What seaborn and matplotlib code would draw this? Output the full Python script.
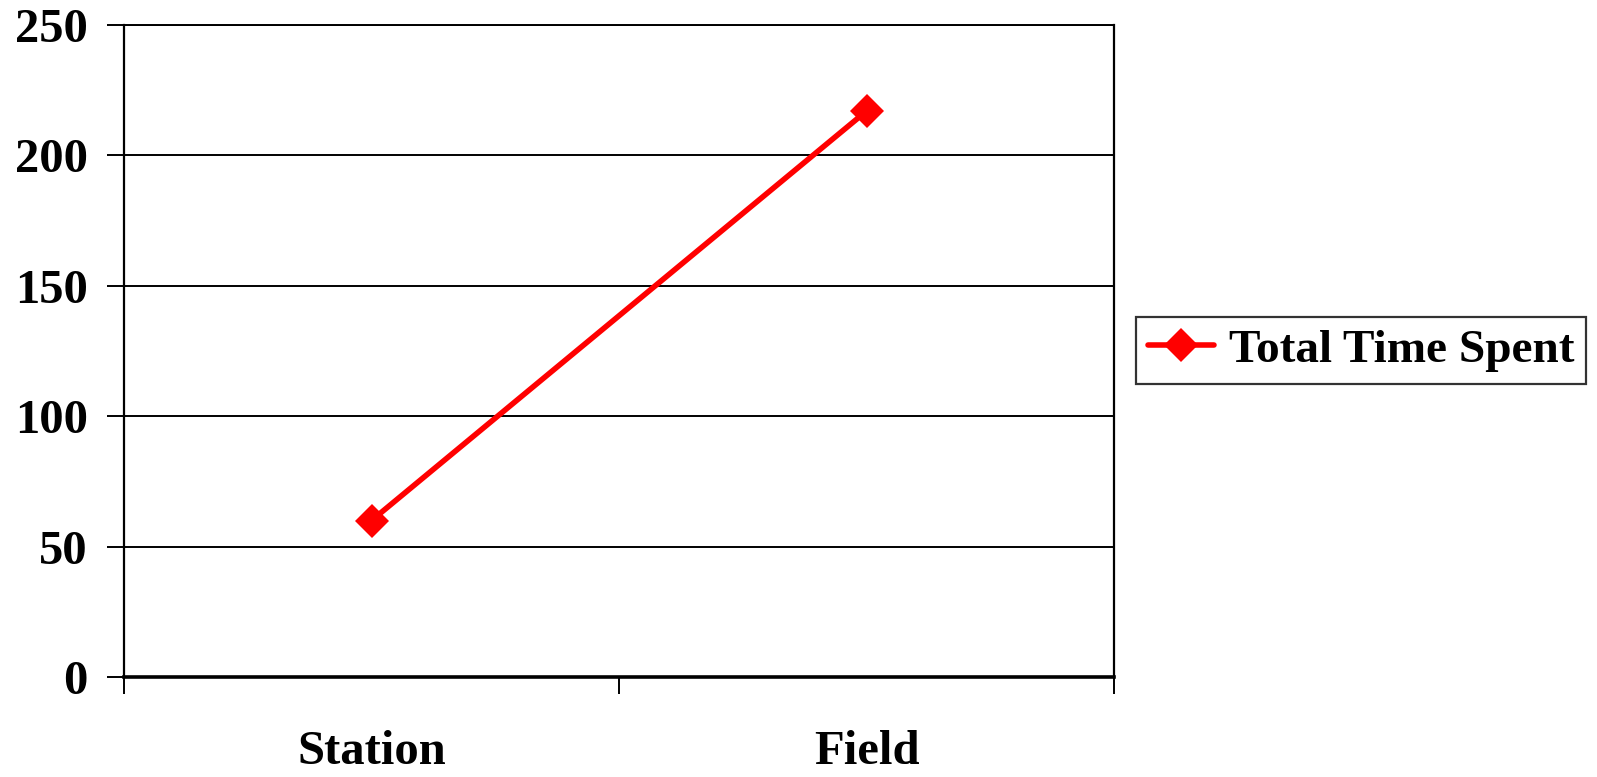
import matplotlib
matplotlib.use("Agg")
import matplotlib.pyplot as plt
import seaborn as sns
import pandas as pd

# Data
categories = ["Station", "Field"]
total_time = [60, 217]
series_name = "Total Time Spent"
y_ticks = [0, 50, 100, 150, 200, 250]

df = pd.DataFrame({"pos": range(len(categories)), "value": total_time,
                   "series": series_name})

sns.set_style("white")
plt.rcParams["font.family"] = ["Liberation Serif", "DejaVu Serif"]
plt.rcParams["font.weight"] = "bold"
plt.rcParams["text.color"] = "black"
plt.rcParams["xtick.color"] = "black"
plt.rcParams["ytick.color"] = "black"

W, H = 1597, 777
fig = plt.figure(figsize=(W / 100, H / 100), dpi=100)
ax = fig.add_axes([124 / W, 1 - 677 / H, (1114 - 124) / W, (677 - 25) / H])

sns.lineplot(data=df, x="pos", y="value", hue="series", palette=["#ff0000"],
             marker="D", markersize=17, markeredgewidth=0, linewidth=4.0,
             ax=ax, legend=False)

ax.set_xlim(-0.5, len(categories) - 0.5)
ax.set_ylim(0, 250)

# Horizontal grid
ax.set_yticks(y_ticks)
ax.set_yticklabels([str(t) for t in y_ticks], fontsize=35, fontweight="bold",
                   color="black")
ax.yaxis.grid(True, color="black", linewidth=1.4)
ax.xaxis.grid(False)
ax.tick_params(axis="y", direction="out", length=12, width=1.4, pad=14,
               left=True, colors="black")

# Category boundaries as major ticks, category names as minor labels
ax.set_xticks([i - 0.5 for i in range(len(categories) + 1)])
ax.set_xticklabels([])
ax.set_xticks(range(len(categories)), minor=True)
ax.set_xticklabels(categories, minor=True, fontsize=35, fontweight="bold",
                   color="black")
ax.tick_params(axis="x", which="major", direction="out", length=12, width=1.4,
               bottom=True, colors="black")
ax.tick_params(axis="x", which="minor", length=0, pad=38)
ax.set_xlabel("")
ax.set_ylabel("")

for side in ["left", "right", "top", "bottom"]:
    ax.spines[side].set_visible(True)
    ax.spines[side].set_color("black")
ax.spines["left"].set_linewidth(1.6)
ax.spines["right"].set_linewidth(1.6)
ax.spines["top"].set_linewidth(1.4)
ax.spines["bottom"].set_linewidth(2.6)

handle = plt.Line2D([], [], color="#ff0000", marker="D", markersize=17,
                    markeredgewidth=0, linewidth=4.0)
leg = fig.legend([handle], [series_name], loc="upper left",
                 bbox_to_anchor=(1136 / W, 1 - 317 / H), frameon=True,
                 fancybox=False, edgecolor="black", borderaxespad=0,
                 prop={"size": 34, "weight": "bold"}, handlelength=1.4,
                 handletextpad=0.32, borderpad=0.25)
leg.get_frame().set_linewidth(1.6)
for t in leg.get_texts():
    t.set_color("black")

fig.savefig("out.png", dpi=100, facecolor="white")
